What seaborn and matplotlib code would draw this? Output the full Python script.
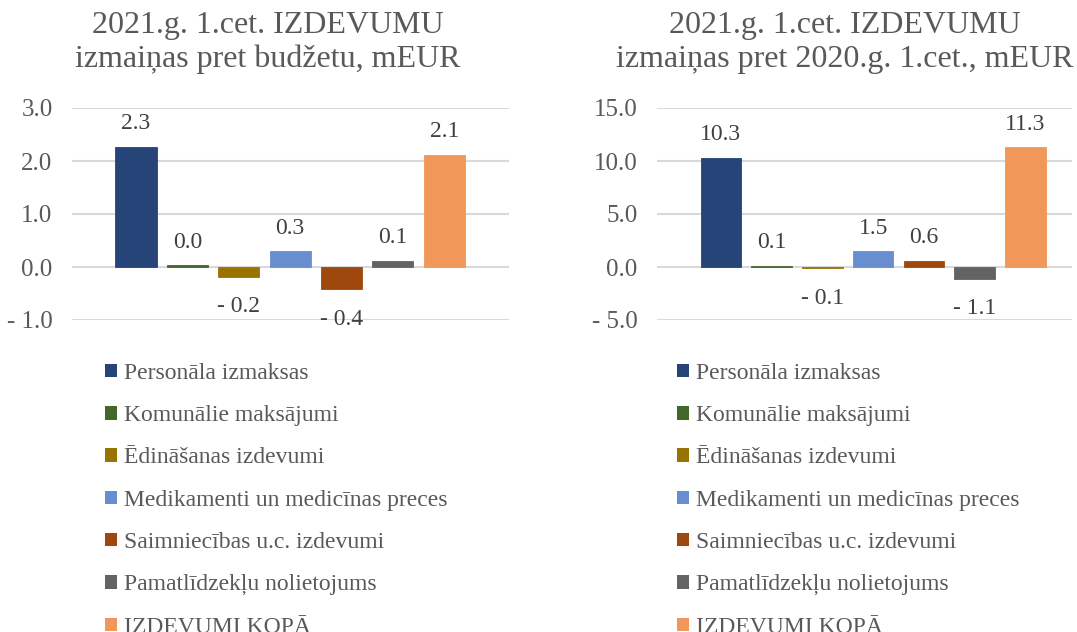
import matplotlib
matplotlib.use("Agg")
import matplotlib.pyplot as plt
import seaborn as sns
from matplotlib.patches import Patch
from matplotlib.ticker import FuncFormatter

# Data
categories = ["Personāla izmaksas", "Komunālie maksājumi", "Ēdināšanas izdevumi",
              "Medikamenti un medicīnas preces", "Saimniecības u.c. izdevumi",
              "Pamatlīdzekļu nolietojums", "IZDEVUMI KOPĀ"]
vs_budget = [2.27, 0.03, -0.18, 0.30, -0.42, 0.12, 2.12]
vs_2020 = [10.3, 0.14, -0.14, 1.5, 0.6, -1.1, 11.3]
colors = ["#264478", "#43682B", "#997300", "#698ED0", "#9E480E", "#636363", "#F1975A"]

title_left = ["2021.g. 1.cet. IZDEVUMU", "izmaiņas pret budžetu, mEUR"]
title_right = ["2021.g. 1.cet. IZDEVUMU", "izmaiņas pret 2020.g. 1.cet., mEUR"]

sns.set_theme(style="white")
plt.rcParams['font.family'] = ['Liberation Serif', 'DejaVu Serif']

TXT = "#595959"
LBL = "#404040"


def fmt(v):
    return f"- {abs(v):.1f}" if v < -1e-9 else f"{v:.1f}"


fig = plt.figure(figsize=(10.77, 6.32), dpi=100)
ax1 = fig.add_axes([72 / 1077, 1 - 320 / 632, 437 / 1077, 212 / 632])
ax2 = fig.add_axes([657 / 1077, 1 - 320 / 632, 415 / 1077, 212 / 632])

setups = [
    (ax1, vs_budget, (-1, 3), [-1, 0, 1, 2, 3], (-1.245, 7.26)),
    (ax2, vs_2020, (-5, 15), [-5, 0, 5, 10, 15], (-1.26, 6.92)),
]

for ax, vals, ylim, ticks, xlim in setups:
    sns.barplot(x=categories, y=vals, hue=categories, palette=colors,
                width=0.8, legend=False, saturation=1, ax=ax, zorder=3)
    # thin edge in the bar colour so near-zero bars stay visible
    for bar, c in zip(ax.patches, colors):
        bar.set_edgecolor(c)
        bar.set_linewidth(0.6)
    ax.set_ylim(*ylim)
    ax.set_xlim(*xlim)
    ax.set_yticks(ticks)
    ax.yaxis.set_major_formatter(FuncFormatter(lambda v, p: fmt(v)))
    ax.grid(axis='y', color="#D9D9D9", linewidth=1.5, zorder=0)
    ax.set_axisbelow(True)
    ax.set_xticks([])
    ax.set_xlabel("")
    ax.set_ylabel("")
    for s in ax.spines.values():
        s.set_visible(False)
    ax.tick_params(axis='y', length=0, pad=14, labelsize=18, labelcolor=TXT)
    for i, v in enumerate(vals):
        if v >= 0:
            ax.annotate(fmt(v), (i, v), xytext=(0, 9), textcoords="offset points",
                        ha='center', va='bottom', fontsize=17, color=LBL)
        else:
            ax.annotate(fmt(v), (i, v), xytext=(0, -14), textcoords="offset points",
                        ha='center', va='top', fontsize=17, color=LBL)

# Titles
for cx, lines in [(268 / 1077, title_left), (845 / 1077, title_right)]:
    fig.text(cx, 1 - 33 / 632, lines[0], ha='center', va='baseline', fontsize=23, color=TXT)
    fig.text(cx, 1 - 67 / 632, lines[1], ha='center', va='baseline', fontsize=23, color=TXT)

# Legends
handles = [Patch(facecolor=c, edgecolor='none') for c in colors]
for lx in [105 / 1077, 677 / 1077]:
    fig.legend(handles, categories, loc='upper left', bbox_to_anchor=(lx, 1 - 363 / 632),
               frameon=False, fontsize=17, labelcolor=TXT, handlelength=0.5,
               handleheight=0.5, handletextpad=0.3, labelspacing=0.9,
               borderpad=0, borderaxespad=0)

fig.savefig("out.png", dpi=100)
